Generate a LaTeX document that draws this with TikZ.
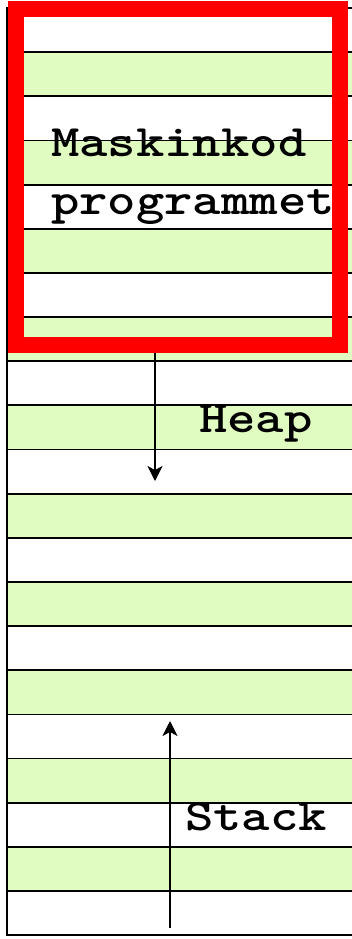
\documentclass[tikz,border=0pt]{standalone}
\usepackage{fontspec}
\usetikzlibrary{arrows.meta,positioning}
\definecolor{rowgreen}{RGB}{224,252,192}
\tikzset{
  cell/.style={draw=black, line width=1.8pt, minimum width=363pt, minimum height=44.15pt, inner sep=0pt, outer sep=0pt},
  codebox/.style={draw=red, line width=16pt, minimum width=324pt, minimum height=336pt, inner sep=0pt},
  lbl/.style={font=\fontsize{45}{54}\selectfont\ttfamily\bfseries, inner sep=0pt, anchor=base west, transform shape, xscale=1.2},
  arr/.style={-{Stealth[length=15pt, width=15pt, inset=4pt]}, line width=1.5pt}}

\begin{document}
\begin{tikzpicture}[x=1pt, y=-1pt]
  \useasboundingbox (0,0) rectangle (351,939);
  % memory cells
  \foreach \i in {1,...,21} {
    \pgfmathparse{isodd(\i) ? "white" : "rowgreen"}
    \edef\cellfill{\pgfmathresult}
    \node[cell, fill=\cellfill] (r\i) at (188.5, {8 + (\i-0.5)*44.15}) {};
  }
  % growth directions
  \coordinate (heaptop) at (155,340);
  \coordinate (heapend) at (155,481);
  \coordinate (stackbot) at (170,928);
  \coordinate (stackend) at (170,721);
  \draw[arr] (heaptop) -- (heapend);
  \draw[arr] (stackbot) -- (stackend);
  % program code area
  \node[codebox] (code) at (178,177) {};
  \node[lbl] (mask) at (51,157) {Maskinkod};
  \node[lbl] (prog) at (51,214) {programmet};
  \node[lbl] (heap) at (199,432) {Heap};
  \node[lbl] (stack) at (185,830) {Stack};
\end{tikzpicture}
\end{document}
